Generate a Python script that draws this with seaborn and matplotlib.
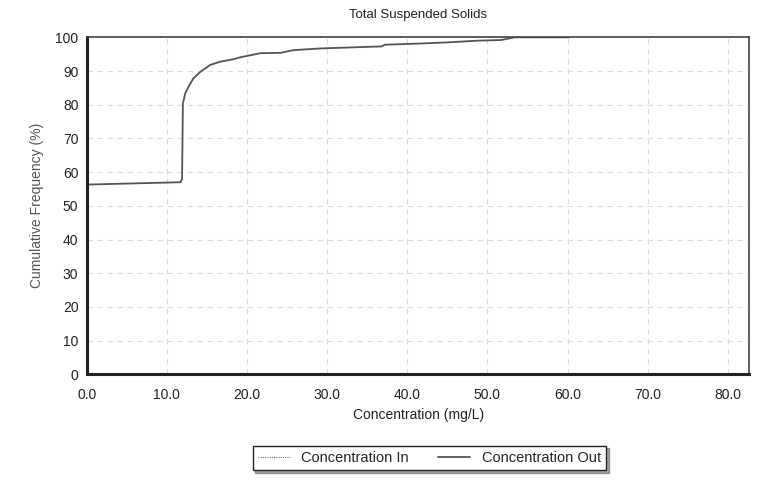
import numpy as np
import pandas as pd
import seaborn as sns
import matplotlib.pyplot as plt
from matplotlib.ticker import MultipleLocator

# Cumulative frequency curves
conc_out = [0.0, 5.0, 11.7, 11.9, 12.0, 12.3, 12.7, 13.3, 14.2, 15.4, 16.7, 18.3,
            19.2, 21.7, 24.2, 25.8, 29.2, 35.4, 36.8, 37.2, 42.0, 45.0, 48.75,
            51.7, 53.4, 60.2]
freq_out = [56.3, 56.6, 57.0, 58.0, 80.4, 83.4, 85.3, 87.8, 89.8, 91.8, 92.8, 93.5,
            94.1, 95.3, 95.4, 96.2, 96.7, 97.2, 97.3, 97.8, 98.2, 98.5, 99.0,
            99.2, 100.0, 100.0]
conc_in = []
freq_in = []

x_ticks = [0, 10, 20, 30, 40, 50, 60, 70, 80]
y_ticks = [0, 10, 20, 30, 40, 50, 60, 70, 80, 90, 100]

sns.set_style("white")
plt.rcParams["font.family"] = ["Liberation Sans", "DejaVu Sans"]

fig = plt.figure(figsize=(7.64, 4.95), dpi=100)
ax = fig.add_axes([0.1135, 0.2438, 0.8675, 0.6808])

df_out = pd.DataFrame({"conc": conc_out, "freq": freq_out})
# the inflow series has no points in this chart, only its legend entry
ax.plot(conc_in, freq_in, color="#777777", lw=0.8, ls=(0, (1, 1)),
        label="Concentration In")
sns.lineplot(data=df_out, x="conc", y="freq", ax=ax, color="#555555", lw=1.3,
             label="Concentration Out")

ax.set_xlim(0, 82.7)
ax.set_ylim(0, 100)
ax.set_xticks(x_ticks)
ax.set_xticklabels([f"{v:.1f}" for v in x_ticks])
ax.set_yticks(y_ticks)
ax.xaxis.set_minor_locator(MultipleLocator(2.5))
ax.grid(True, which="major", color="#dddddd", ls=(0, (5, 4)), lw=0.8)

for side in ["left", "bottom"]:
    ax.spines[side].set_linewidth(2.2)
    ax.spines[side].set_color("#222222")
for side in ["top", "right"]:
    ax.spines[side].set_linewidth(1.2)
    ax.spines[side].set_color("#444444")

ax.tick_params(axis="both", which="major", labelsize=10, length=3, color="#999999",
               labelcolor="#222222", direction="out")
ax.tick_params(axis="x", which="minor", length=2, color="#bbbbbb", direction="out")
ax.tick_params(axis="x", pad=7)
ax.tick_params(axis="y", pad=3)

ax.set_title("Total Suspended Solids", fontsize=9.5, color="#222222", pad=14)
ax.set_xlabel("Concentration (mg/L)", fontsize=10, color="#222222", labelpad=4)
ax.set_ylabel("Cumulative Frequency (%)", fontsize=10, color="#555555", labelpad=8)

leg = ax.legend(loc="upper center", bbox_to_anchor=(0.517, -0.19), ncol=2,
                frameon=True, fancybox=False, shadow=True, fontsize=10.5,
                handlelength=2.2, columnspacing=2.0, borderpad=0.35,
                edgecolor="#222222")
leg.get_frame().set_linewidth(1.0)

fig.savefig("out.png", dpi=100)
